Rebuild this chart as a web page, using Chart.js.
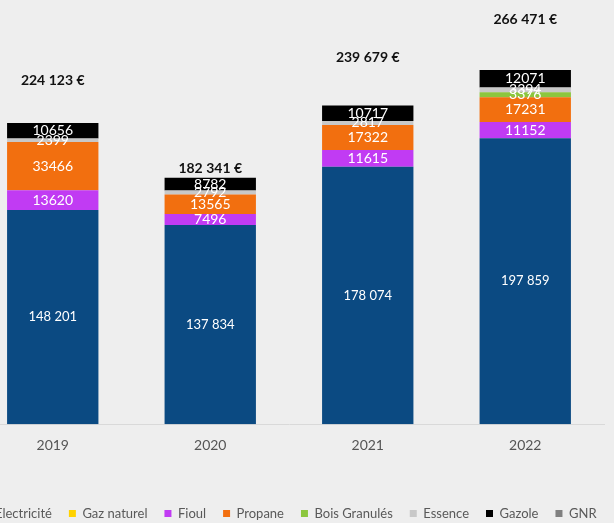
<!DOCTYPE html>
<html>
<head>
<meta charset="utf-8">
<script src="https://cdn.jsdelivr.net/npm/chart.js@4"></script>
<style>
  html, body { margin: 0; padding: 0; background: #eeeeee; overflow: hidden; }
  #wrap { position: absolute; left: -51px; top: 0; width: 680px; height: 523px; }
</style>
</head>
<body>
<div id="wrap"><canvas id="chart"></canvas></div>
<script>
const years = ['2019', '2020', '2021', '2022'];

const electricite = [148201, 137834, 178074, 197859];
const gazNaturel  = [0, 0, 0, 0];
const fioul       = [13620, 7496, 11615, 11152];
const propane     = [33466, 13565, 17322, 17231];
const boisGranules = [0, 0, 0, 3376];
const essence     = [2399, 2792, 2817, 3394];
const gazole      = [10656, 8782, 10717, 12071];
const gnr         = [0, 0, 0, 0];

const totals = [224123, 182341, 239679, 266471];

const fmtSpace = v => String(v).replace(/\B(?=(\d{3})+(?!\d))/g, '\u202f');

// labels inside the segments + totals above each bar
const labelsPlugin = {
  id: 'segLabels',
  afterDatasetsDraw(chart) {
    const ctx = chart.ctx;
    ctx.save();
    ctx.textAlign = 'center';
    ctx.textBaseline = 'middle';
    chart.data.datasets.forEach((ds, i) => {
      const meta = chart.getDatasetMeta(i);
      meta.data.forEach((bar, j) => {
        const v = ds.data[j];
        if (!v) return;
        const p = bar.getProps(['x', 'y', 'base'], true);
        const y = (p.y + p.base) / 2;
        ctx.fillStyle = '#ffffff';
        if (i === 0) {
          ctx.font = '13px Lato';
          ctx.fillText(fmtSpace(v), p.x, y);
        } else {
          ctx.font = '14px Lato';
          ctx.fillText(String(v), p.x, y);
        }
      });
    });
    // totals
    const ys = chart.scales.y;
    const xs = chart.scales.x;
    const nudge = [-20, 8, -20, -20];
    ctx.fillStyle = '#111111';
    ctx.font = 'bold 14px Lato';
    totals.forEach((t, j) => {
      const x = xs.getPixelForValue(j);
      const y = ys.getPixelForValue(t) + nudge[j];
      ctx.fillText(fmtSpace(t) + ' \u20ac', x, y);
    });
    ctx.restore();
  }
};

const mk = (label, data, color) => ({
  label: label,
  data: data,
  backgroundColor: color,
  borderWidth: 0,
  categoryPercentage: 1,
  barPercentage: 0.58
});

// hidden side axes just reserve 25px each side (keeps legend full width)
const sideAxis = pos => ({
  position: pos,
  display: true,
  stacked: true,
  min: 0,
  max: 290000,
  grid: { display: false },
  border: { display: false },
  ticks: { display: false },
  afterFit(scale) { scale.width = 25; }
});

new Chart(document.getElementById('chart'), {
  type: 'bar',
  data: {
    labels: years,
    datasets: [
      mk('Electricité', electricite, '#0b4a82'),
      mk('Gaz naturel', gazNaturel, '#ffd200'),
      mk('Fioul', fioul, '#c13bf3'),
      mk('Propane', propane, '#f26f0f'),
      mk('Bois Granulés', boisGranules, '#8cc63e'),
      mk('Essence', essence, '#c8c8c8'),
      mk('Gazole', gazole, '#000000'),
      mk('GNR', gnr, '#808080')
    ]
  },
  options: {
    responsive: true,
    maintainAspectRatio: false,
    animation: false,
    layout: { padding: { top: 5, left: 0, right: 0, bottom: -7 } },
    plugins: {
      tooltip: { enabled: false },
      legend: {
        position: 'bottom',
        labels: {
          boxWidth: 7,
          boxHeight: 7,
          padding: 17,
          color: '#595959',
          font: { family: 'Lato', size: 13 }
        }
      }
    },
    scales: {
      x: {
        stacked: true,
        grid: { display: false, drawTicks: false },
        border: { display: true, color: '#d9d9d9' },
        ticks: { color: '#555555', font: { family: 'Lato', size: 14 }, padding: 13 },
        afterFit(scale) { scale.height += 23; }
      },
      y: sideAxis('left'),
      y2: sideAxis('right')
    }
  },
  plugins: [labelsPlugin]
});
</script>
</body>
</html>
